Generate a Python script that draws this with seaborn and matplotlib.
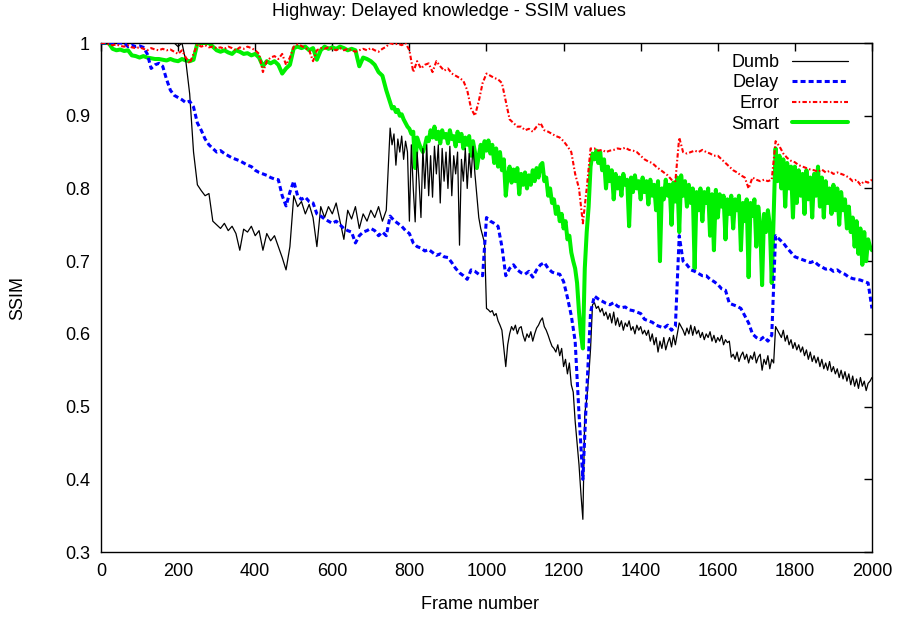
import numpy as np
import pandas as pd
import matplotlib
matplotlib.use("Agg")
import matplotlib.pyplot as plt
import seaborn as sns

# Frame index for Delay and Error (every 10th frame)
frames = list(range(0, 2001, 10))
# Dumb and Smart are sampled more densely where they fluctuate strongly
frames_fine = list(range(0, 750, 10)) + list(range(750, 2001, 5))

dumb = [
    # 0 - 740, step 10
    1.0, 1.0, 1.0, 1.0, 1.0, 1.0, 1.0, 1.0, 1.0, 1.0,
    1.0, 1.0, 1.0, 1.0, 1.0, 1.0, 1.0, 1.0, 1.0, 1.0,
    0.995, 1.0, 0.975, 0.93, 0.85, 0.805, 0.797, 0.79, 0.793, 0.755,
    0.75, 0.745, 0.752, 0.742, 0.748, 0.738, 0.715, 0.744, 0.74, 0.748,
    0.735, 0.742, 0.715, 0.738, 0.728, 0.735, 0.72, 0.705, 0.688, 0.72,
    0.79, 0.775, 0.782, 0.765, 0.778, 0.76, 0.72, 0.775, 0.76, 0.775,
    0.765, 0.78, 0.755, 0.73, 0.77, 0.758, 0.775, 0.745, 0.765, 0.755,
    0.77, 0.76, 0.775, 0.755, 0.77,
    # 750 - 2000, step 5
    0.883, 0.86, 0.875, 0.832, 0.868, 0.85, 0.872, 0.84, 0.865, 0.85,
    0.755, 0.86, 0.8, 0.754, 0.85, 0.81, 0.76, 0.855, 0.8, 0.86,
    0.79, 0.845, 0.788, 0.858, 0.82, 0.86, 0.78, 0.855, 0.81, 0.85,
    0.8, 0.858, 0.79, 0.845, 0.82, 0.85, 0.722, 0.84, 0.81, 0.855,
    0.8, 0.848, 0.815, 0.858, 0.82, 0.79, 0.76, 0.745, 0.735, 0.725,
    0.635, 0.633, 0.63, 0.632, 0.625, 0.628, 0.618, 0.612, 0.605, 0.58,
    0.555, 0.585, 0.6, 0.61, 0.605, 0.612, 0.6, 0.608, 0.61, 0.598,
    0.59, 0.6, 0.595, 0.603, 0.59, 0.6, 0.608, 0.612, 0.618, 0.622,
    0.61, 0.605, 0.598, 0.59, 0.583, 0.58, 0.575, 0.585, 0.57, 0.58,
    0.555, 0.565, 0.545, 0.56, 0.53, 0.52, 0.48, 0.45, 0.42, 0.38,
    0.345, 0.49, 0.51, 0.54, 0.58, 0.64, 0.643, 0.635, 0.638, 0.63,
    0.635, 0.625, 0.63, 0.62, 0.628, 0.615, 0.63, 0.612, 0.622, 0.61,
    0.618, 0.605, 0.615, 0.61, 0.618, 0.605, 0.61, 0.6, 0.612, 0.605,
    0.61, 0.6, 0.605, 0.598, 0.605, 0.59, 0.6, 0.585, 0.595, 0.575,
    0.59, 0.58, 0.595, 0.578, 0.588, 0.595, 0.582, 0.598, 0.585, 0.6,
    0.615, 0.61, 0.605, 0.598, 0.608, 0.6, 0.612, 0.598, 0.61, 0.6,
    0.605, 0.595, 0.602, 0.592, 0.6, 0.595, 0.603, 0.59, 0.598, 0.588,
    0.595, 0.59, 0.598, 0.585, 0.592, 0.588, 0.59, 0.568, 0.572, 0.565,
    0.575, 0.562, 0.57, 0.575, 0.565, 0.572, 0.56, 0.57, 0.565, 0.575,
    0.56, 0.568, 0.572, 0.55, 0.565, 0.558, 0.57, 0.552, 0.565, 0.56,
    0.61, 0.605, 0.6, 0.595, 0.605, 0.59, 0.598, 0.585, 0.592, 0.58,
    0.588, 0.578, 0.585, 0.575, 0.582, 0.57, 0.578, 0.565, 0.575, 0.562,
    0.57, 0.56, 0.568, 0.555, 0.565, 0.552, 0.56, 0.55, 0.562, 0.548,
    0.555, 0.545, 0.552, 0.54, 0.55, 0.538, 0.548, 0.535, 0.545, 0.53,
    0.542, 0.528, 0.538, 0.525, 0.54, 0.528, 0.535, 0.522, 0.532, 0.535,
    0.54,
]

delay = [
    1.0, 1.0, 1.0, 1.0, 1.0, 1.0, 1.0, 0.995, 0.997, 0.995,
    0.996, 0.994, 0.985, 0.965, 0.97, 0.972, 0.968, 0.95, 0.935, 0.928,
    0.925, 0.922, 0.918, 0.92, 0.912, 0.89, 0.88, 0.868, 0.86, 0.855,
    0.85, 0.852, 0.848, 0.845, 0.842, 0.84, 0.838, 0.835, 0.832, 0.83,
    0.825, 0.822, 0.82, 0.818, 0.815, 0.813, 0.812, 0.79, 0.776, 0.795,
    0.81, 0.79, 0.785, 0.788, 0.782, 0.78, 0.765, 0.762, 0.758, 0.755,
    0.752, 0.755, 0.75, 0.745, 0.742, 0.74, 0.725, 0.735, 0.74, 0.742,
    0.745, 0.742, 0.735, 0.74, 0.735, 0.762, 0.756, 0.752, 0.748, 0.742,
    0.738, 0.725, 0.72, 0.718, 0.714, 0.716, 0.712, 0.708, 0.71, 0.706,
    0.705, 0.698, 0.69, 0.684, 0.68, 0.675, 0.688, 0.686, 0.682, 0.68,
    0.76, 0.755, 0.752, 0.748, 0.72, 0.68, 0.69, 0.695, 0.688, 0.684,
    0.682, 0.686, 0.678, 0.688, 0.695, 0.698, 0.69, 0.685, 0.683, 0.682,
    0.672, 0.65, 0.625, 0.59, 0.49, 0.4, 0.52, 0.63, 0.652, 0.648,
    0.645, 0.642, 0.64, 0.643, 0.638, 0.636, 0.637, 0.633, 0.632, 0.63,
    0.628, 0.62, 0.618, 0.616, 0.612, 0.61, 0.608, 0.612, 0.605, 0.61,
    0.735, 0.7, 0.695, 0.688, 0.686, 0.683, 0.68, 0.68, 0.675, 0.672,
    0.668, 0.662, 0.66, 0.642, 0.64, 0.638, 0.635, 0.625, 0.615, 0.6,
    0.595, 0.592, 0.596, 0.59, 0.598, 0.735, 0.73, 0.725, 0.718, 0.712,
    0.706, 0.704, 0.702, 0.7, 0.698, 0.7, 0.695, 0.692, 0.689, 0.69,
    0.686, 0.688, 0.684, 0.682, 0.678, 0.676, 0.675, 0.674, 0.672, 0.67,
    0.635,
]

error = [
    1.0, 1.0, 0.998, 0.997, 0.998, 0.996, 0.995, 0.997, 0.994, 0.993,
    0.994, 0.992, 0.99, 0.993, 0.991, 0.99, 0.992, 0.99, 0.991, 0.988,
    0.985, 0.99, 0.98, 0.972, 0.985, 0.998, 0.995, 0.997, 0.994, 0.995,
    0.993, 0.994, 0.992, 0.995, 0.993, 0.99, 0.994, 0.992, 0.995, 0.993,
    0.99, 0.985, 0.96, 0.975, 0.98, 0.982, 0.978, 0.985, 0.97, 0.98,
    0.995, 0.998, 0.996, 0.993, 0.99, 0.975, 0.99, 0.993, 0.992, 0.994,
    0.992, 0.99, 0.993, 0.99, 0.992, 0.99, 0.988, 0.99, 0.992, 0.99,
    0.993, 0.99, 0.988, 0.992, 0.995, 1.0, 0.998, 0.999, 0.997, 1.0,
    0.99, 0.96, 0.975, 0.965, 0.97, 0.972, 0.96, 0.975, 0.968, 0.962,
    0.965, 0.958, 0.955, 0.952, 0.948, 0.935, 0.91, 0.9, 0.92, 0.945,
    0.958, 0.955, 0.952, 0.95, 0.945, 0.92, 0.895, 0.89, 0.885, 0.885,
    0.88, 0.882, 0.878, 0.885, 0.89, 0.88, 0.878, 0.875, 0.872, 0.87,
    0.865, 0.858, 0.85, 0.82, 0.8, 0.752, 0.8, 0.855, 0.855, 0.852,
    0.853, 0.85, 0.852, 0.853, 0.855, 0.854, 0.856, 0.853, 0.852, 0.85,
    0.845, 0.84, 0.837, 0.835, 0.83, 0.826, 0.822, 0.818, 0.812, 0.81,
    0.87, 0.85, 0.848, 0.85, 0.852, 0.85, 0.853, 0.85, 0.848, 0.845,
    0.845, 0.84, 0.835, 0.83, 0.825, 0.822, 0.818, 0.815, 0.8, 0.815,
    0.812, 0.81, 0.812, 0.81, 0.812, 0.865, 0.858, 0.848, 0.842, 0.838,
    0.836, 0.832, 0.83, 0.828, 0.826, 0.825, 0.823, 0.826, 0.822, 0.824,
    0.82, 0.822, 0.82, 0.818, 0.815, 0.81, 0.812, 0.805, 0.81, 0.808,
    0.812,
]

smart = [
    # 0 - 740, step 10
    1.0, 1.0, 1.0, 0.992, 0.99, 0.991, 0.989, 0.99, 0.983, 0.982,
    0.98, 0.982, 0.98, 0.979, 0.978, 0.978, 0.977, 0.976, 0.978, 0.976,
    0.975, 0.978, 0.976, 0.975, 0.977, 1.0, 1.0, 1.0, 1.0, 0.995,
    0.99, 0.988, 0.99, 0.987, 0.985, 0.99, 0.988, 0.985, 0.986, 0.983,
    0.985, 0.98, 0.968, 0.975, 0.972, 0.975, 0.97, 0.958, 0.965, 0.97,
    0.993, 0.995, 0.993, 0.995, 0.99, 0.993, 0.977, 0.99, 0.995, 0.992,
    0.994, 0.992, 0.995, 0.993, 0.99, 0.992, 0.99, 0.968, 0.98, 0.978,
    0.975, 0.97, 0.96, 0.955, 0.935,
    # 750 - 2000, step 5
    0.918, 0.91, 0.912, 0.905, 0.908, 0.9, 0.902, 0.895, 0.89, 0.885,
    0.882, 0.875, 0.878, 0.828, 0.87, 0.862, 0.855, 0.85, 0.858, 0.87,
    0.865, 0.88, 0.87, 0.885, 0.868, 0.878, 0.862, 0.88, 0.87, 0.875,
    0.862, 0.88, 0.868, 0.872, 0.858, 0.878, 0.865, 0.875, 0.855, 0.87,
    0.86, 0.872, 0.845, 0.865, 0.85, 0.828, 0.845, 0.86, 0.842, 0.865,
    0.852, 0.866, 0.848, 0.86, 0.835, 0.855, 0.83, 0.85, 0.825, 0.84,
    0.79, 0.818, 0.83, 0.808, 0.826, 0.81, 0.828, 0.792, 0.82, 0.805,
    0.822, 0.8, 0.818, 0.805, 0.825, 0.81, 0.828, 0.815, 0.832, 0.835,
    0.81, 0.815, 0.79, 0.8, 0.78, 0.785, 0.765, 0.775, 0.755, 0.765,
    0.745, 0.755, 0.73, 0.735, 0.712, 0.7, 0.69, 0.67, 0.63, 0.6,
    0.58, 0.69, 0.74, 0.775, 0.83, 0.848, 0.84, 0.852, 0.835, 0.85,
    0.825, 0.84, 0.8, 0.83, 0.81, 0.825, 0.785, 0.82, 0.8, 0.815,
    0.79, 0.82, 0.805, 0.812, 0.748, 0.815, 0.795, 0.818, 0.8, 0.81,
    0.785, 0.815, 0.795, 0.81, 0.778, 0.812, 0.79, 0.805, 0.77, 0.81,
    0.7, 0.8, 0.785, 0.812, 0.79, 0.805, 0.75, 0.808, 0.782, 0.815,
    0.74, 0.818, 0.79, 0.81, 0.775, 0.805, 0.78, 0.8, 0.69, 0.795,
    0.77, 0.8, 0.755, 0.795, 0.78, 0.8, 0.735, 0.792, 0.715, 0.798,
    0.76, 0.792, 0.775, 0.79, 0.73, 0.785, 0.765, 0.79, 0.745, 0.785,
    0.77, 0.79, 0.715, 0.78, 0.755, 0.785, 0.678, 0.78, 0.762, 0.785,
    0.72, 0.775, 0.75, 0.667, 0.765, 0.74, 0.77, 0.75, 0.67, 0.76,
    0.855, 0.81, 0.845, 0.8, 0.84, 0.775, 0.835, 0.8, 0.83, 0.76,
    0.83, 0.78, 0.825, 0.79, 0.82, 0.765, 0.825, 0.785, 0.815, 0.76,
    0.82, 0.79, 0.83, 0.775, 0.815, 0.76, 0.81, 0.78, 0.8, 0.765,
    0.805, 0.77, 0.8, 0.75, 0.795, 0.77, 0.785, 0.745, 0.775, 0.74,
    0.76, 0.72, 0.755, 0.71, 0.745, 0.695, 0.74, 0.7, 0.73, 0.72,
    0.715,
]

series_names = ["Dumb", "Delay", "Error", "Smart"]
series_frames = {"Dumb": frames_fine, "Delay": frames,
                 "Error": frames, "Smart": frames_fine}
series_values = {"Dumb": dumb, "Delay": delay, "Error": error, "Smart": smart}

df = pd.concat(
    [pd.DataFrame({"frame": series_frames[n], "ssim": series_values[n],
                   "method": n}) for n in series_names],
    ignore_index=True,
)

sns.set_style("white")
plt.rcParams["font.family"] = ["Liberation Sans", "DejaVu Sans"]
plt.rcParams["text.color"] = "black"
plt.rcParams["axes.labelcolor"] = "black"
plt.rcParams["lines.scale_dashes"] = False

fig = plt.figure(figsize=(8.98, 6.17), dpi=100)
ax = fig.add_axes([0.1125, 0.1053, 0.8585, 0.825])

styles = {
    "Dumb":  dict(color="black",   linewidth=0.9, dashes=None, z=3),
    "Delay": dict(color="#0000ff", linewidth=2.2, dashes=(3.6, 2.2), z=4),
    "Error": dict(color="#ff0000", linewidth=1.5, dashes=(3.2, 1.6, 1.1, 1.6), z=5),
    "Smart": dict(color="#00f000", linewidth=2.9, dashes=None, z=2),
}

handles = {}
for name in series_names:
    st = styles[name]
    sub = df[df["method"] == name]
    sns.lineplot(data=sub, x="frame", y="ssim", ax=ax, color=st["color"],
                 linewidth=st["linewidth"], zorder=st["z"], label=name,
                 estimator=None, sort=False)
    line = ax.get_lines()[-1]
    if st["dashes"] is not None:
        line.set_dashes(st["dashes"])
    handles[name] = line

ax.set_xlim(0, 2000)
ax.set_ylim(0.3, 1.0)
ax.set_xticks(range(0, 2001, 200))
ax.set_yticks(np.arange(0.3, 1.001, 0.1))
ax.yaxis.set_major_formatter(matplotlib.ticker.FormatStrFormatter("%g"))
ax.tick_params(direction="in", length=6, width=1, top=True, right=True,
               labelsize=13, pad=8, colors="black")
for s in ax.spines.values():
    s.set_linewidth(1.0)
    s.set_color("black")

ax.set_xlabel("Frame number", fontsize=13)
ax.xaxis.set_label_coords(0.4916, -0.087)
ax.set_ylabel("SSIM", fontsize=13, labelpad=28)
fig.suptitle("Highway: Delayed knowledge - SSIM values", fontsize=13,
             x=0.5, y=1 - 12 / 617, va="center")

# labels sit to the left of their line samples, right-aligned
leg = ax.legend([handles[n] for n in series_names], series_names,
                loc="upper right", frameon=False, fontsize=13,
                markerfirst=False, handlelength=3.1, handletextpad=0.72,
                labelspacing=0.2, borderaxespad=0.2,
                bbox_to_anchor=(0.983, 1.0))

fig.savefig("out.png", dpi=100)
